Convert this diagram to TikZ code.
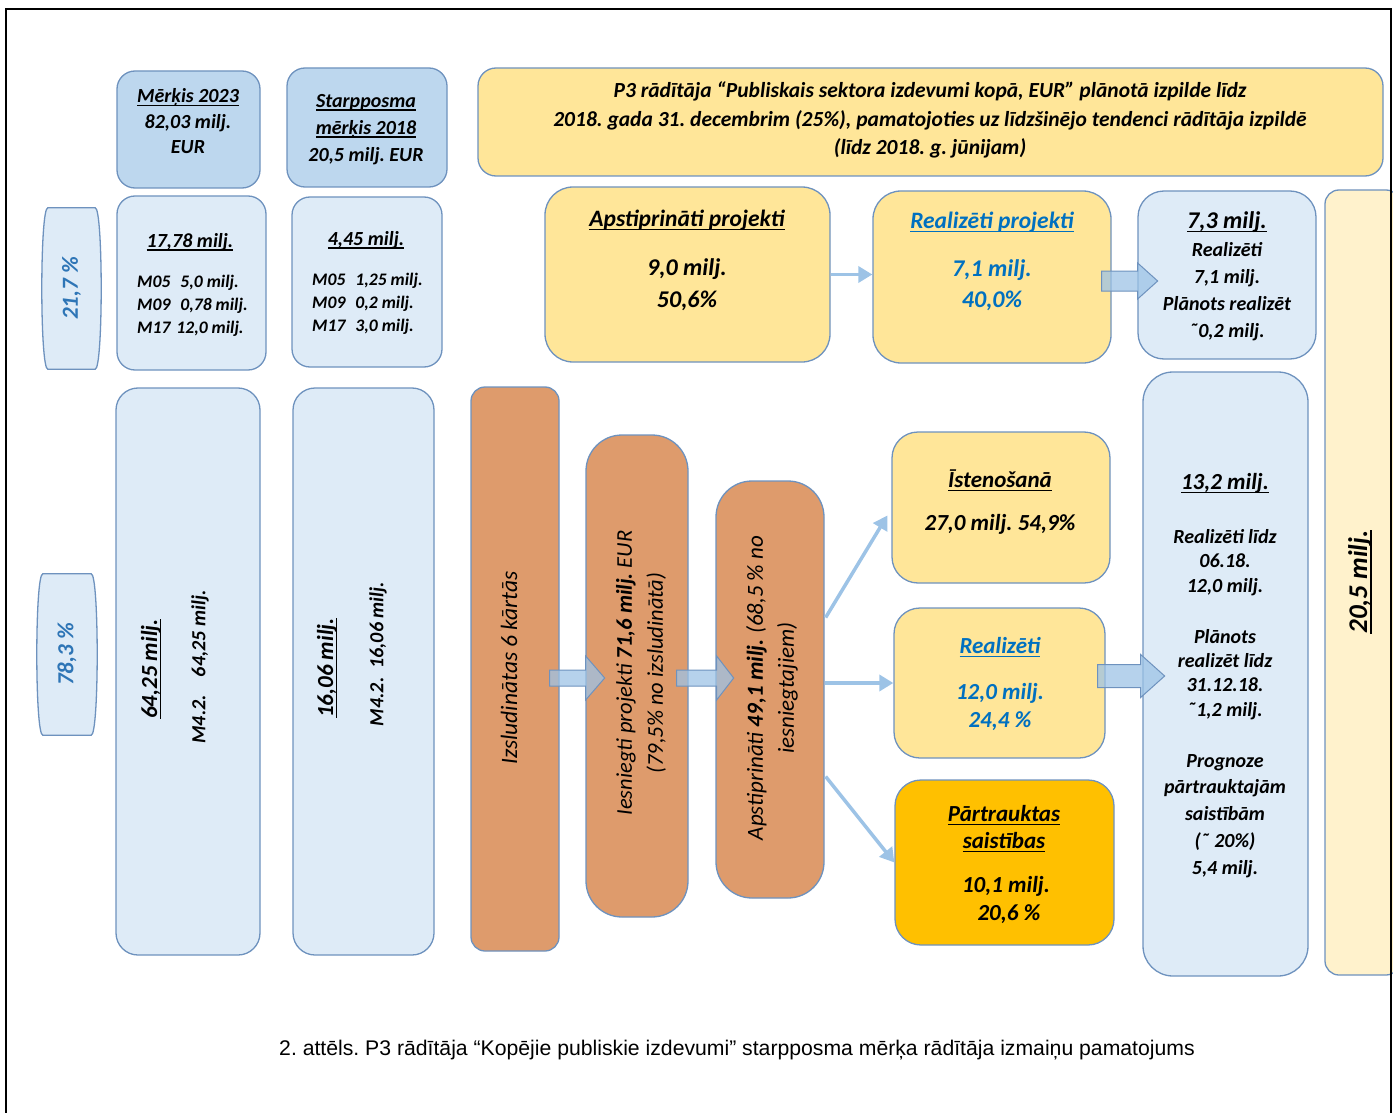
\documentclass[tikz,border=0pt]{standalone}
\usepackage{fontspec}
\setmainfont{Carlito}
\newfontfamily\captionfont{Liberation Sans}
\usetikzlibrary{calc}
\usetikzlibrary{arrows.meta}
\frenchspacing
\definecolor{Bd}{HTML}{6E92BE}
\definecolor{Bhead}{HTML}{BDD7EE}
\definecolor{Blight}{HTML}{DEEBF7}
\definecolor{Ylw}{HTML}{FFE699}
\definecolor{Gold}{HTML}{FFC000}
\definecolor{Org}{HTML}{DE9B6C}
\definecolor{Crm}{HTML}{FFF2CC}
\definecolor{Arw}{HTML}{9DC3E6}
\definecolor{Btxt}{HTML}{0070C0}
\definecolor{Ptxt}{HTML}{2E75B6}
\newcommand\fsz[2]{\fontsize{#1}{#2}\selectfont}
\newcommand\undl[1]{\leavevmode\setbox0\hbox{#1}\rlap{\vrule height -0.12em depth 0.18em width \wd0}\box0}
\newcommand\blockarrow[5]{%
  \draw[blockarr] ($#1+(0,-#4)$) -- ($#1+(#2,-#4)$) -- ($#1+(#2,-#5)$) -- ($#1+(#2+#3,0)$) -- ($#1+(#2,#5)$) -- ($#1+(#2,#4)$) -- ($#1+(0,#4)$) -- cycle;}
\newcommand\barrel[1]{%
  \draw[pctline] ($(#1.north east)+(-6,0)$) .. controls ($(#1.north east)+(2,0)$) and ($(#1.south east)+(2,0)$) .. ($(#1.south east)+(-6,0)$) -- ($(#1.south west)+(6,0)$) .. controls ($(#1.south west)+(-2,0)$) and ($(#1.north west)+(-2,0)$) .. ($(#1.north west)+(6,0)$) -- cycle;}
\tikzset{
  cbox/.style={draw=Bd, line width=1.3pt, rounded corners=#1, inner sep=0pt},
  cbox/.default=18pt,
  headbox/.style={cbox=#1, fill=Bhead},
  headbox/.default=18pt,
  lightbox/.style={cbox=#1, fill=Blight},
  lightbox/.default=18pt,
  ylwbox/.style={cbox=#1, fill=Ylw},
  ylwbox/.default=18pt,
  orgbox/.style={cbox=#1, fill=Org},
  orgbox/.default=18pt,
  pctline/.style={draw=Bd, line width=1.3pt, fill=Blight},
  pctshape/.style={inner sep=0pt},
  thinarr/.style={draw=Arw, line width=3.5pt, -{Triangle[length=14pt,width=16pt]}},
  blockarr/.style={draw=Bd, line width=1pt, fill=Arw, fill opacity=0.75},
  btxt/.style 2 args={font=\fsz{#1}{#2}\bfseries\itshape, align=center, inner sep=0pt},
  itxt/.style 2 args={font=\fsz{#1}{#2}\itshape, align=center, inner sep=0pt}
}
\begin{document}
\begin{tikzpicture}[x=1pt,y=-1pt]
\useasboundingbox (0,0) rectangle (1393,1113);

% targets, left part
\node[headbox, minimum width=143, minimum height=117] (mk23) at (188.5,129.5) {};
\node[headbox, minimum width=160, minimum height=119] (sp18) at (367,127.5) {};
\node[lightbox, minimum width=149, minimum height=174] (m1778) at (191.5,283) {};
\node[lightbox, minimum width=150, minimum height=170] (m445) at (367,282) {};
\node[pctshape, minimum width=59, minimum height=161] (p217) at (71.5,288.5) {};
\barrel{p217}
\node[pctshape, minimum width=60, minimum height=161] (p783) at (67,654.5) {};
\barrel{p783}
\node[lightbox=22pt, minimum width=144, minimum height=567] (m6425) at (188,671.5) {};
\node[lightbox=22pt, minimum width=141, minimum height=567] (m1606) at (363.5,671.5) {};

% calls, submitted, approved
\node[orgbox=14pt, minimum width=88, minimum height=564] (izs) at (515,669) {};
\node[orgbox=36pt, minimum width=102, minimum height=482] (ies) at (637,676) {};
\node[orgbox=36pt, minimum width=108, minimum height=417] (ap49) at (770,689.5) {};

% upper right
\node[ylwbox, minimum width=905, minimum height=108] (ban) at (930.5,122) {};
\node[ylwbox=28pt, minimum width=285, minimum height=175] (apr) at (687.5,274.5) {};
\node[ylwbox=28pt, minimum width=238, minimum height=172] (rp) at (992,277) {};
\node[lightbox=26pt, minimum width=178, minimum height=168] (r73) at (1227,275) {};

% lower right
\node[ylwbox=26pt, minimum width=218, minimum height=151] (ist) at (1001,507.5) {};
\node[ylwbox=26pt, minimum width=211, minimum height=150] (rea) at (999.5,683) {};
\node[cbox=26pt, fill=Gold, minimum width=219, minimum height=165] (part) at (1004.5,862.5) {};
\node[lightbox=30pt, minimum width=165, minimum height=604] (m132) at (1225.5,674) {};
\node[cbox=14pt, fill=Crm, minimum width=75, minimum height=785] (m205) at (1362.5,582.5) {};

% connectors
\draw[thinarr] (apr.east) -- (apr.east -| rp.west);
\draw[thinarr] ($(ap49.east)+(1,-72)$) -- ($(ist.west)+(-4,8)$);
\draw[thinarr] (ap49.east |- rea.west) -- (rea.west);
\draw[thinarr] ($(ap49.east)+(1,87)$) -- (part.west);

\coordinate (a1) at ($(izs.east)+(-10,9)$);
\blockarrow{(a1)}{36}{19}{8}{22}
\coordinate (a2) at ($(ies.east)+(-12,2)$);
\blockarrow{(a2)}{40}{17}{8}{22}
\coordinate (a3) at ($(rp.east)+(-10,4)$);
\blockarrow{(a3)}{36}{20}{10}{18}
\coordinate (a4) at ($(rea.east)+(-8,-7)$);
\blockarrow{(a4)}{43}{24}{11.5}{21.5}

% texts
\node[btxt={20}{25.7}, anchor=base] (t-mk23) at (188,154) {\undl{Mērķis 2023}\\82,03 milj.\\EUR};
\node[btxt={20}{27}, anchor=base] (t-sp18) at (366,161) {\undl{Starpposma}\\\undl{mērķis 2018}\\20,5 milj. EUR};
\node[btxt={20}{25}, anchor=base] (t-m1778) at (190,247) {\undl{17,78 milj.}};
\node[btxt={17.6}{23}, align=left, anchor=base west] (l-m1778) at (137,333) {M05\hspace{10pt}5,0 milj.\\M09\hspace{10pt}0,78 milj.\\M17\hspace{6pt}12,0 milj.};
\node[btxt={20}{25}, anchor=base] (t-m445) at (366,245) {\undl{4,45 milj.}};
\node[btxt={17.6}{23}, align=left, anchor=base west] (l-m445) at (312,331) {M05\hspace{10pt}1,25 milj.\\M09\hspace{10pt}0,2 milj.\\M17\hspace{10pt}3,0 milj.};
\node[btxt={23}{28}, rotate=90, text=Ptxt] (t-p217) at (p217) {21,7 \%};
\node[btxt={23}{28}, rotate=90, text=Ptxt] (t-p783) at (p783) {78,3 \%};
\node[btxt={23}{28}, rotate=90] (t-m6425) at (151,669) {\undl{64,25 milj.}};
\node[btxt={20}{25}, rotate=90] (l-m6425) at (200,667) {M4.2.\hspace{18pt}64,25 milj.};
\node[btxt={23}{28}, rotate=90] (t-m1606) at (327,668) {\undl{16,06 milj.}};
\node[btxt={20}{25}, rotate=90] (l-m1606) at (378,654) {M4.2.\hspace{9pt}16,06 milj.};

\node[itxt={23.5}{31}, rotate=90] (t-izs) at (509,668) {Izsludinātas 6 kārtās};
\node[itxt={22.5}{31}, rotate=90] (t-ies) at (641,673) {Iesniegti projekti \textbf{71,6 milj.} EUR\\(79,5\% no izsludinātā)};
\node[itxt={23}{31}, rotate=90] (t-ap49) at (772,688) {Apstiprināti \textbf{49,1 milj.} (68,5 \% no\\iesniegtajiem)};

\node[btxt={21.5}{28.5}, anchor=base] (t-ban) at (930,155) {P3 rādītāja “Publiskais sektora izdevumi kopā, EUR” plānotā izpilde līdz\\2018. gada 31. decembrim (25\%), pamatojoties uz līdzšinējo tendenci rādītāja izpildē\\(līdz 2018. g. jūnijam)};
\node[btxt={23.5}{28}, anchor=base] (t-apr) at (687,226) {\undl{Apstiprināti projekti}};
\node[btxt={24}{32}, anchor=base] (v-apr) at (687,307) {9,0 milj.\\50,6\%};
\node[btxt={23.5}{28}, anchor=base, text=Btxt] (t-rp) at (992,228) {\undl{Realizēti projekti}};
\node[btxt={24}{31}, anchor=base, text=Btxt] (v-rp) at (992,307) {7,1 milj.\\40,0\%};
\node[btxt={24}{28}, anchor=base] (t-r73) at (1227,228) {\undl{7,3 milj.}};
\node[btxt={20}{27}, anchor=base] (v-r73) at (1227,337) {Realizēti\\7,1 milj.\\Plānots realizēt\\˜0,2 milj.};

\node[btxt={23}{28}, anchor=base] (t-ist) at (1000,487) {\undl{Īstenošanā}};
\node[btxt={23}{28}, anchor=base] (v-ist) at (1000,530) {27,0 milj. 54,9\%};
\node[btxt={23}{28}, anchor=base, text=Btxt] (t-rea) at (1000,653) {\undl{Realizēti}};
\node[btxt={23}{28}, anchor=base, text=Btxt] (v-rea) at (1000,727) {12,0 milj.\\24,4 \%};
\node[btxt={23}{27}, anchor=base] (t-part) at (1004,848) {\undl{Pārtrauktas}\\\undl{saistības}};
\node[btxt={23}{28}, anchor=base] (v-part) at (1006,920) {10,1 milj.\\\hspace*{6pt}20,6 \%};
\node[btxt={23}{28}, anchor=base] (t-m132) at (1225,489) {\undl{13,2 milj.}};
\node[btxt={20}{24.5}, anchor=base] (g1-m132) at (1225,592) {Realizēti līdz\\06.18.\\12,0 milj.};
\node[btxt={20}{24.3}, anchor=base] (g2-m132) at (1225,716) {Plānots\\realizēt līdz\\31.12.18.\\˜1,2 milj.};
\node[btxt={20}{26.7}, anchor=base] (g3-m132) at (1225,874) {Prognoze\\pārtrauktajām\\saistībām\\(˜ 20\%)\\5,4 milj.};
\node[btxt={27}{30}, rotate=90] (t-m205) at (1360,582) {\undl{20,5 milj.}};

% caption and frame
\node[font=\captionfont\fsz{21.2}{25}, anchor=base, inner sep=0pt] (cap) at (737,1055) {2. attēls. P3 rādītāja “Kopējie publiskie izdevumi” starpposma mērķa rādītāja izmaiņu pamatojums};
\draw[line width=2pt] (6,1113) -- (6,9) -- (1391,9) -- (1391,1113);
\end{tikzpicture}
\end{document}
